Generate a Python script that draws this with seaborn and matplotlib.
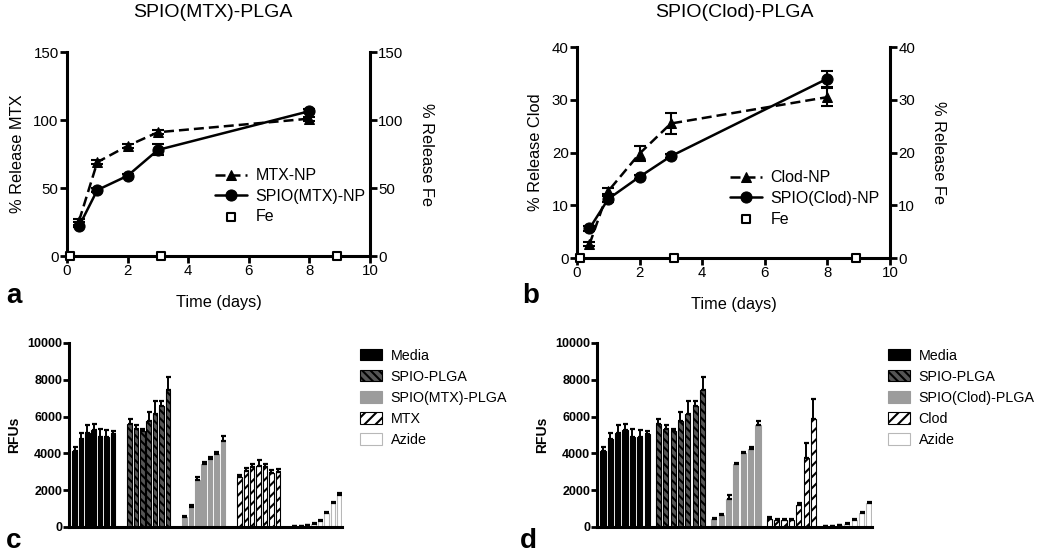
import numpy as np
import pandas as pd
import matplotlib
matplotlib.use('Agg')
import matplotlib.pyplot as plt
import seaborn as sns
from matplotlib.patches import Patch

sns.set_theme(style='ticks')
plt.rcParams['font.family'] = ['Liberation Sans', 'DejaVu Sans']
for k in ['axes.edgecolor', 'text.color', 'axes.labelcolor', 'xtick.color', 'ytick.color']:
    plt.rcParams[k] = 'black'
plt.rcParams['hatch.linewidth'] = 1.5

# ---------------- Panel a: release SPIO(MTX)-PLGA ----------------
days_a = [0.4, 1, 2, 3, 8]
mtx_np = [26, 69, 81, 91, 101]
mtx_np_err = [1, 1.5, 1.5, 1.5, 1.5]
spio_mtx_np = [22, 48.5, 59, 78, 106.5]
spio_mtx_np_err = [1, 1.5, 1.5, 4, 1.5]
fe_days_a = [0.1, 3.1, 8.9]
fe_a = [0, 0, 0]

# ---------------- Panel b: release SPIO(Clod)-PLGA ----------------
days_b = [0.4, 1, 2, 3, 8]
clod_np = [2.6, 12.7, 19.8, 25.5, 30.5]
clod_np_err = [0.4, 0.6, 1.5, 2.0, 1.7]
spio_clod_np = [5.6, 11.2, 15.4, 19.3, 34.0]
spio_clod_np_err = [0.4, 0.5, 0.4, 0.4, 1.5]
fe_days_b = [0.1, 3.1, 8.9]
fe_b = [0, 0, 0]

# ---------------- Panel c: RFUs ----------------
groups_c = ['Media', 'SPIO-PLGA', 'SPIO(MTX)-PLGA', 'MTX', 'Azide']
media = [4150, 4800, 5100, 5250, 4900, 4900, 5050]
media_err = [200, 300, 450, 350, 400, 350, 150]
spio_plga = [5600, 5350, 5200, 5750, 6150, 6600, 7450]
spio_plga_err = [250, 200, 100, 500, 700, 250, 700]
spio_mtx_plga = [550, 1100, 2550, 3400, 3700, 3950, 4650]
spio_mtx_plga_err = [60, 100, 150, 120, 100, 100, 300]
mtx = [2700, 3050, 3250, 3300, 3250, 2950, 3000]
mtx_err = [150, 150, 150, 350, 150, 150, 150]
azide_c = [30, 50, 100, 160, 350, 760, 1300, 1760]
azide_c_err = [20, 20, 30, 30, 50, 60, 60, 80]

# ---------------- Panel d: RFUs ----------------
groups_d = ['Media', 'SPIO-PLGA', 'SPIO(Clod)-PLGA', 'Clod', 'Azide']
spio_clod_plga = [430, 650, 1500, 3400, 4000, 4250, 5550]
spio_clod_plga_err = [60, 80, 250, 100, 100, 80, 200]
clod = [450, 380, 380, 380, 1200, 3750, 5850]
clod_err = [100, 50, 50, 50, 100, 800, 1100]
azide_d = [30, 50, 100, 180, 380, 780, 1300]
azide_d_err = [20, 20, 30, 30, 50, 60, 60]

# styles per group (Media, SPIO-PLGA, drug-PLGA, drug, Azide)
group_styles = [
    dict(facecolor='black', edgecolor='black', hatch=None),
    dict(facecolor='#555555', edgecolor='black', hatch='\\\\\\\\'),
    dict(facecolor='#9c9c9c', edgecolor='#9c9c9c', hatch=None),
    dict(facecolor='white', edgecolor='black', hatch='///'),
    dict(facecolor='white', edgecolor='#b8b8b8', hatch=None),
]

fig = plt.figure(figsize=(10.5, 5.55), dpi=100)


def line_panel(rect, days, y1, e1, lab1, y2, e2, lab2, fe_days, fe, ymax, ystep,
               ylab, leg_anchor):
    ax = fig.add_axes(rect)
    d1 = pd.DataFrame({'day': days, 'val': y1})
    d2 = pd.DataFrame({'day': days, 'val': y2})
    sns.lineplot(data=d1, x='day', y='val', ax=ax, color='black', linewidth=1.8,
                 linestyle=(0, (4, 2)), marker='^', markersize=6.5,
                 markeredgecolor='black', label=lab1, clip_on=False, zorder=3)
    sns.lineplot(data=d2, x='day', y='val', ax=ax, color='black', linewidth=1.8,
                 marker='o', markersize=8, markeredgecolor='black',
                 label=lab2, clip_on=False, zorder=4)
    ax.errorbar(days, y1, yerr=e1, fmt='none', ecolor='black', elinewidth=1.5,
                capsize=4, capthick=1.5, zorder=3)
    ax.errorbar(days, y2, yerr=e2, fmt='none', ecolor='black', elinewidth=1.5,
                capsize=4, capthick=1.5, zorder=4)
    if ax.get_legend() is not None:
        ax.get_legend().remove()
    ax.set_xlim(0, 10)
    ax.set_ylim(0, ymax)
    ax.set_xticks(np.arange(0, 11, 2))
    ax.set_yticks(np.arange(0, ymax + 1, ystep))
    ax.set_xlabel('Time (days)', fontsize=11.7, labelpad=12)
    ax.set_ylabel(ylab, fontsize=11.8, labelpad=6)
    ax.tick_params(direction='out', length=5, width=2, labelsize=10.8, pad=1,
                   bottom=True, left=True)
    for s in ['top', 'right']:
        ax.spines[s].set_visible(False)
    for s in ['left', 'bottom']:
        ax.spines[s].set_linewidth(2.2)

    tw = ax.twinx()
    df_fe = pd.DataFrame({'day': fe_days, 'val': fe})
    sns.scatterplot(data=df_fe, x='day', y='val', ax=tw, marker='s', s=32,
                    facecolor='white', edgecolor='black', linewidth=1.5,
                    label='Fe', clip_on=False, zorder=5)
    if tw.get_legend() is not None:
        tw.get_legend().remove()
    tw.set_ylim(0, ymax)
    tw.set_yticks(np.arange(0, ymax + 1, ystep))
    tw.set_ylabel('% Release Fe', fontsize=11.8, rotation=270, labelpad=22)
    tw.tick_params(direction='out', length=5, width=2, labelsize=10.8, pad=1,
                   right=True)
    for s in ['top', 'left', 'bottom']:
        tw.spines[s].set_visible(False)
    tw.spines['right'].set_linewidth(2.2)

    h1, l1 = ax.get_legend_handles_labels()
    h2, l2 = tw.get_legend_handles_labels()
    tw.legend(h1 + h2, l1 + l2, loc='upper left', bbox_to_anchor=leg_anchor,
              frameon=False, fontsize=11.5, handlelength=2.0, handletextpad=0.5,
              labelspacing=0.35, borderpad=0, borderaxespad=0)
    return ax


line_panel([0.0638, 0.5387, 0.2886, 0.3676], days_a, mtx_np, mtx_np_err, 'MTX-NP',
           spio_mtx_np, spio_mtx_np_err, 'SPIO(MTX)-NP', fe_days_a, fe_a,
           150, 50, '% Release MTX', (0.49, 0.43))
line_panel([0.5495, 0.5351, 0.2981, 0.3802], days_b, clod_np, clod_np_err, 'Clod-NP',
           spio_clod_np, spio_clod_np_err, 'SPIO(Clod)-NP', fe_days_b, fe_b,
           40, 10, '% Release Clod', (0.49, 0.415))

fig.text(0.203, 0.977, 'SPIO(MTX)-PLGA', fontsize=14, ha='center', va='center')
fig.text(0.699, 0.977, 'SPIO(Clod)-PLGA', fontsize=14, ha='center', va='center')


def bar_panel(rect, groups, series, errs, leg_anchor):
    ax = fig.add_axes(rect)
    rows = []
    for g, vals, ers in zip(groups, series, errs):
        for i, (v, e) in enumerate(zip(vals, ers)):
            rows.append(dict(group=g, t=i, rfu=v, err=e))
    df = pd.DataFrame(rows)
    nh = int(df['t'].max()) + 1
    width = 0.93
    sns.barplot(data=df, x='group', y='rfu', hue='t', order=groups,
                hue_order=list(range(nh)), palette=['black'] * nh, width=width,
                gap=0.3, errorbar=None, legend=False, saturation=1, ax=ax)
    slot = width / nh
    xs_min, xs_max = [], []
    for p in list(ax.patches):
        h = p.get_height()
        if h is None or np.isnan(h):
            continue
        cx = p.get_x() + p.get_width() / 2
        gi = int(round(cx))
        hi = int(round((cx - gi + width / 2) / slot - 0.5))
        st = group_styles[gi]
        p.set_facecolor(st['facecolor'])
        p.set_edgecolor(st['edgecolor'])
        p.set_linewidth(0.8)
        if st['hatch']:
            p.set_hatch(st['hatch'])
        sub = df[(df['group'] == groups[gi]) & (df['t'] == hi)]
        if len(sub):
            e = float(sub['err'].iloc[0])
            ax.errorbar([cx], [h], yerr=[[0], [e]], fmt='none', ecolor='black',
                        elinewidth=1.4, capsize=1.8, capthick=1.6, zorder=4)
        xs_min.append(p.get_x())
        xs_max.append(p.get_x() + p.get_width())
    ax.set_xlim(min(xs_min) - 0.06, max(xs_max) + 0.01)
    ax.set_ylim(0, 10000)
    ax.set_yticks(np.arange(0, 10001, 2000))
    ax.set_xticks([])
    ax.set_xlabel('')
    ax.set_ylabel('RFUs', fontsize=10, fontweight='bold', labelpad=4)
    ax.tick_params(axis='y', direction='out', length=4, width=2, labelsize=9, pad=1,
                   left=True)
    for lab in ax.get_yticklabels():
        lab.set_fontweight('bold')
    for s in ['top', 'right']:
        ax.spines[s].set_visible(False)
    for s in ['left', 'bottom']:
        ax.spines[s].set_linewidth(2.2)
    handles = [Patch(facecolor=st['facecolor'], edgecolor=st['edgecolor'],
                     hatch=st['hatch'], linewidth=0.8, label=g)
               for st, g in zip(group_styles, groups)]
    ax.legend(handles=handles, loc='upper left', bbox_to_anchor=leg_anchor,
              frameon=False, fontsize=10.3, handlelength=1.55, handleheight=0.85,
              handletextpad=0.6, labelspacing=0.5, borderpad=0, borderaxespad=0)
    return ax


bar_panel([0.0657, 0.0505, 0.26, 0.3315], groups_c,
          [media, spio_plga, spio_mtx_plga, mtx, azide_c],
          [media_err, spio_plga_err, spio_mtx_plga_err, mtx_err, azide_c_err],
          (1.066, 0.97))
bar_panel([0.5686, 0.0505, 0.2619, 0.3315], groups_d,
          [media, spio_plga, spio_clod_plga, clod, azide_d],
          [media_err, spio_plga_err, spio_clod_plga_err, clod_err, azide_d_err],
          (1.058, 0.97))

for x, y, t in [(0.006, 0.467, 'a'), (0.497, 0.467, 'b'), (0.006, 0.025, 'c'),
                (0.495, 0.025, 'd')]:
    fig.text(x, y, t, fontsize=20, fontweight='bold', ha='left', va='center')

fig.savefig('out.png', dpi=100)
